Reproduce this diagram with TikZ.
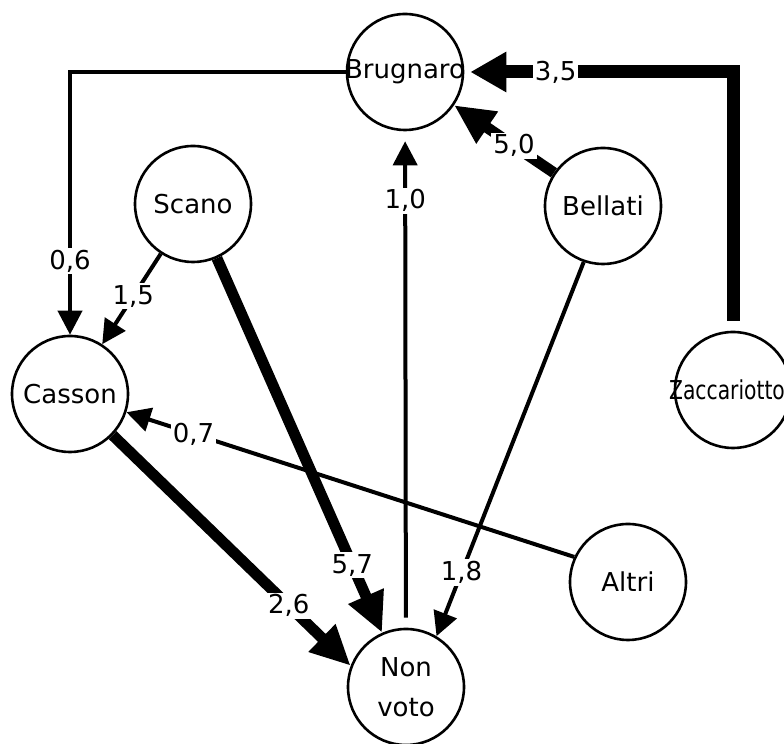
\documentclass[tikz,border=0pt]{standalone}
\usepackage{fontspec}
\setmainfont{DejaVu Sans}
\usetikzlibrary{arrows.meta}
\tikzset{
  cand/.style={draw, circle, line width=1.3pt, minimum size=58pt, inner sep=0pt, align=center},
  num/.style={fill=white, inner sep=1pt},
  flow/.style={line width=2pt, -{Triangle[length=12pt,width=12pt]}},
  bigflow/.style={line width=5.5pt, -{Triangle[length=20pt,width=18pt]}},
  hugeflow/.style={line width=6.5pt, -{Triangle[length=18pt,width=19pt]}}
}
\begin{document}
\begin{tikzpicture}[x=0.5pt,y=0.5pt,font=\fontsize{13}{20}\selectfont]
  \useasboundingbox (0,0) rectangle (784,744);
  \node[cand] (brugnaro) at (405,672) {\makebox[0pt]{Brugnaro}};
  \node[cand] (scano) at (193,540) {Scano};
  \node[cand] (bellati) at (603,538) {Bellati};
  \node[cand] (casson) at (70,350) {Casson};
  \node[cand] (zaccariotto) at (733,354) {\makebox[0pt]{\scalebox{0.78}[1]{Zaccariotto}\hspace{6pt}}};
  \node[cand] (altri) at (628,162) {Altri};
  \node[cand] (nonvoto) at (406,57) {Non\\voto};

  \draw[flow] (brugnaro.west) -| node[num,pos=0.86] {0,6} (casson.north);
  \draw[flow] (scano) -- node[num,pos=0.47] {1,5} (casson);
  \draw[bigflow] (scano) -- node[num,pos=0.82] {5,7} (nonvoto);
  \draw[bigflow] (casson.-44) -- node[num,pos=0.74] {2,6} (nonvoto.159);
  \draw[flow, shorten <=5pt, shorten >=5pt] (nonvoto) -- node[num,pos=0.86] {1,0} (brugnaro);
  \draw[bigflow] (bellati) -- node[num,pos=0.4] {5,0} (brugnaro);
  \draw[flow] (bellati.-109) -- node[num,pos=0.83] {1,8} (nonvoto.59);
  \draw[hugeflow, shorten <=5pt, shorten >=3pt] (zaccariotto.north) |- node[num,pos=0.83] {3,5} (brugnaro.east);
  \draw[flow] (altri.155) -- node[num,pos=0.85] {0,7} (casson);
\end{tikzpicture}
\end{document}
